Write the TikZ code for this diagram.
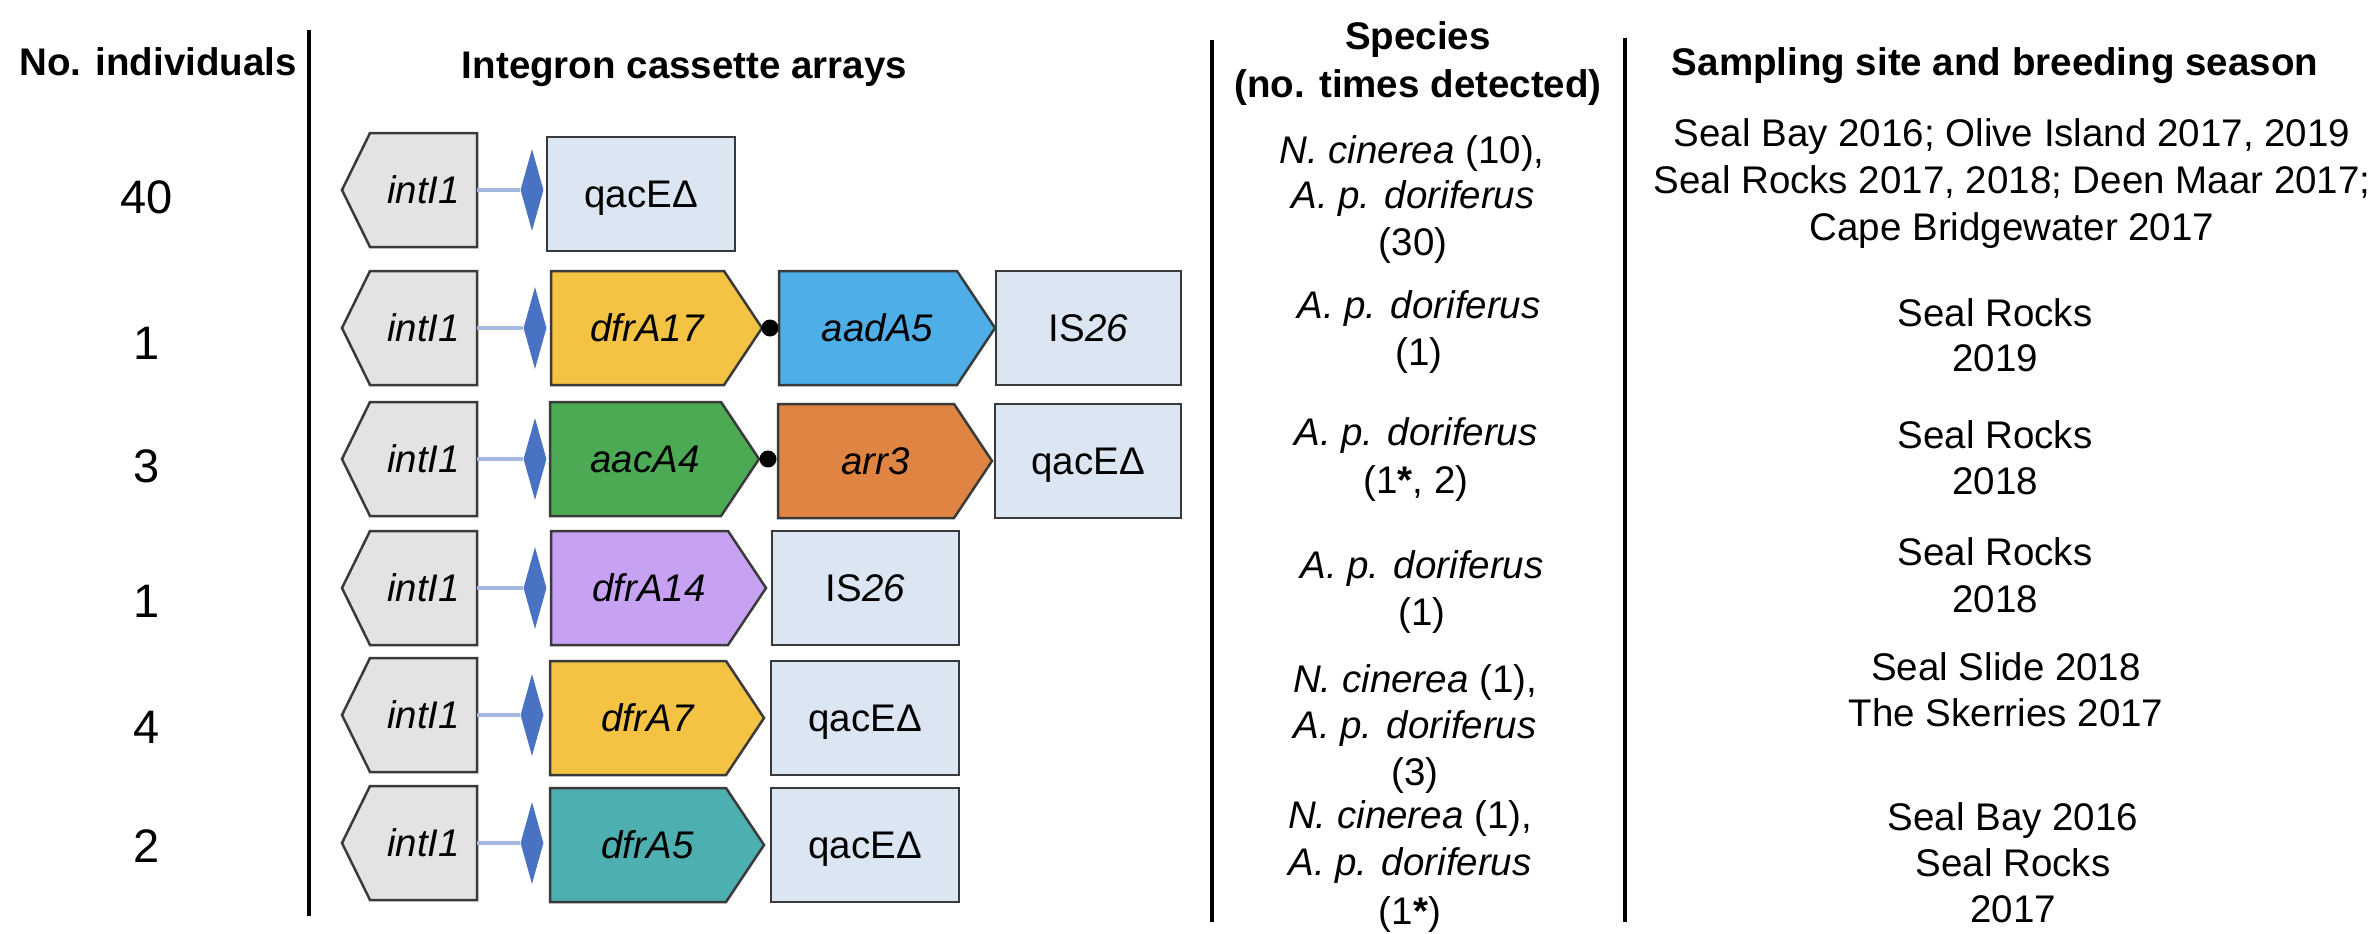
\documentclass[tikz,border=0pt]{standalone}
\usepackage{fontspec}
\setmainfont{Liberation Sans}
\usetikzlibrary{shapes.geometric}
\definecolor{intgray}{HTML}{E3E3E3}
\definecolor{edgegray}{HTML}{3A3A3A}
\definecolor{boxblue}{HTML}{DCE6F2}
\definecolor{gyellow}{HTML}{F4C343}
\definecolor{gsky}{HTML}{4DAEE8}
\definecolor{ggreen}{HTML}{4CAA55}
\definecolor{gorange}{HTML}{E08443}
\definecolor{gpurple}{HTML}{C8A2F2}
\definecolor{gteal}{HTML}{4EAFB0}
\definecolor{attblue}{HTML}{4A72C2}
\definecolor{linkblue}{HTML}{A4B8E0}
\newcommand\intIbox[2]{%
  \draw[genebox, fill=intgray] (477,#2-57) -- (370,#2-57) -- (342,#2) -- (370,#2+57) -- (477,#2+57) -- cycle;
  \node[genetxt, minimum width=107pt] (#1) at (423.5,#2) {\itshape intI1};
}
\newcommand\cassarrow[6]{%
  \draw[genebox, fill=#5] (#2,#4-57) -- (#3-38,#4-57) -- (#3,#4) -- (#3-38,#4+57) -- (#2,#4+57) -- cycle;
  \node[genetxt] (#1) at ({(#2+#3-19)/2},#4) {#6};
}
\begin{document}
\begin{tikzpicture}[x=1pt,y=-1pt,
  txt/.style={inner sep=0pt, font=\fontsize{38.5}{46}\selectfont, anchor=base},
  hdr/.style={inner sep=0pt, font=\fontsize{38.5}{46}\selectfont\bfseries, anchor=base},
  num/.style={inner sep=0pt, font=\fontsize{47}{56}\selectfont, anchor=base},
  vrule/.style={line width=4.5pt, black},
  genetxt/.style={inner sep=0pt, font=\fontsize{38.5}{46}\selectfont, text height=27pt, text depth=0pt},
  genebox/.style={draw=edgegray, line width=2.5pt, line join=miter},
  cbox/.style={genebox, fill=boxblue, minimum height=114pt, inner sep=0pt, font=\fontsize{38.5}{46}\selectfont, text height=27pt, text depth=0pt},
  att/.style={diamond, fill=attblue, draw=none, minimum width=23pt, minimum height=82pt, inner sep=0pt},
  conn/.style={draw=linkblue, line width=3.5pt},
  jn/.style={circle, fill=black, minimum size=17pt, inner sep=0pt},
]
\fill[white] (0,0) rectangle (2377,934);
\path[use as bounding box] (0,0) rectangle (2377,934);

% column rules
\draw[vrule] (309,30) -- (309,916);
\draw[vrule] (1212,40) -- (1212,922);
\draw[vrule] (1625,38) -- (1625,922);

% headers
\node[hdr] (hN) at (158,75) {No. individuals};
\node[hdr] (hI) at (684.5,78) {Integron cassette arrays};
\node[hdr] (hS1) at (1418,50) {Species};
\node[hdr] (hS2) at (1418,97) {(no. times detected)};
\node[hdr] (hT) at (1995,75) {Sampling site and breeding season};

% numbers
\node[num] (n1) at (147,213) {40};
\node[num] (n2) at (147,359) {1};
\node[num] (n3) at (147,482) {3};
\node[num] (n4) at (147,617) {1};
\node[num] (n5) at (147,743) {4};
\node[num] (n6) at (147,862) {2};

% row 1
\intIbox{i1}{190}
\node[att] (d1) at (532,190) {};
\draw[conn] (i1.east) -- (d1.west);
\node[cbox, minimum width=188pt] (r1a) at (641,194) {qacEΔ};

% row 2
\intIbox{i2}{328}
\node[att] (d2) at (535,328) {};
\draw[conn] (i2.east) -- (d2.west);
\cassarrow{r2a}{551}{762}{328}{gyellow}{\itshape dfrA17}
\cassarrow{r2b}{779}{995}{328}{gsky}{\itshape aadA5}
\node[cbox, minimum width=185pt] (r2c) at (1088.5,328) {IS\textit{26}};
\node[jn] (j2) at (770,328) {};

% row 3
\intIbox{i3}{459}
\node[att] (d3) at (535,459) {};
\draw[conn] (i3.east) -- (d3.west);
\cassarrow{r3a}{550}{759}{459}{ggreen}{\itshape aacA4}
\cassarrow{r3b}{778}{992}{461}{gorange}{\itshape arr3}
\node[cbox, minimum width=186pt] (r3c) at (1088,461) {qacEΔ};
\node[jn] (j3) at (768,459) {};

% row 4
\intIbox{i4}{588}
\node[att] (d4) at (535,588) {};
\draw[conn] (i4.east) -- (d4.west);
\cassarrow{r4a}{551}{766}{588}{gpurple}{\itshape dfrA14}
\node[cbox, minimum width=187pt] (r4b) at (865.5,588) {IS\textit{26}};

% row 5
\intIbox{i5}{715}
\node[att] (d5) at (532,715) {};
\draw[conn] (i5.east) -- (d5.west);
\cassarrow{r5a}{550}{764}{718}{gyellow}{\itshape dfrA7}
\node[cbox, minimum width=188pt] (r5b) at (865,718) {qacEΔ};

% row 6
\intIbox{i6}{843}
\node[att] (d6) at (532,843) {};
\draw[conn] (i6.east) -- (d6.west);
\cassarrow{r6a}{550}{764}{845}{gteal}{\itshape dfrA5}
\node[cbox, minimum width=188pt] (r6b) at (865,845) {qacEΔ};

% species column
\node[txt] (s1a) at (1412,163) {\textit{N. cinerea} (10),};
\node[txt] (s1b) at (1413,208) {\textit{A. p. doriferus}};
\node[txt] (s1c) at (1413,255) {(30)};
\node[txt] (s2a) at (1419,318) {\textit{A. p. doriferus}};
\node[txt] (s2b) at (1419,365) {(1)};
\node[txt] (s3a) at (1416,445) {\textit{A. p. doriferus}};
\node[txt] (s3b) at (1416,493) {(1\textbf{*}, 2)};
\node[txt] (s4a) at (1422,578) {\textit{A. p. doriferus}};
\node[txt] (s4b) at (1422,625) {(1)};
\node[txt] (s5a) at (1415,692) {\textit{N. cinerea} (1),};
\node[txt] (s5b) at (1415,738) {\textit{A. p. doriferus}};
\node[txt] (s5c) at (1415,785) {(3)};
\node[txt] (s6a) at (1410,828) {\textit{N. cinerea} (1),};
\node[txt] (s6b) at (1410,875) {\textit{A. p. doriferus}};
\node[txt] (s6c) at (1410,924) {(1\textbf{*})};

% site column
\node[txt] (t1a) at (2012,146) {Seal Bay 2016; Olive Island 2017, 2019};
\node[txt] (t1b) at (2012,193) {Seal Rocks 2017, 2018; Deen Maar 2017;};
\node[txt] (t1c) at (2012,240) {Cape Bridgewater 2017};
\node[txt] (t2a) at (1995,326) {Seal Rocks};
\node[txt] (t2b) at (1995,371) {2019};
\node[txt] (t3a) at (1995,448) {Seal Rocks};
\node[txt] (t3b) at (1995,494) {2018};
\node[txt] (t4a) at (1995,565) {Seal Rocks};
\node[txt] (t4b) at (1995,612) {2018};
\node[txt] (t5a) at (2006,680) {Seal Slide 2018};
\node[txt] (t5b) at (2006,726) {The Skerries 2017};
\node[txt] (t6a) at (2013,830) {Seal Bay 2016};
\node[txt] (t6b) at (2013,876) {Seal Rocks};
\node[txt] (t6c) at (2013,922) {2017};
\end{tikzpicture}
\end{document}
